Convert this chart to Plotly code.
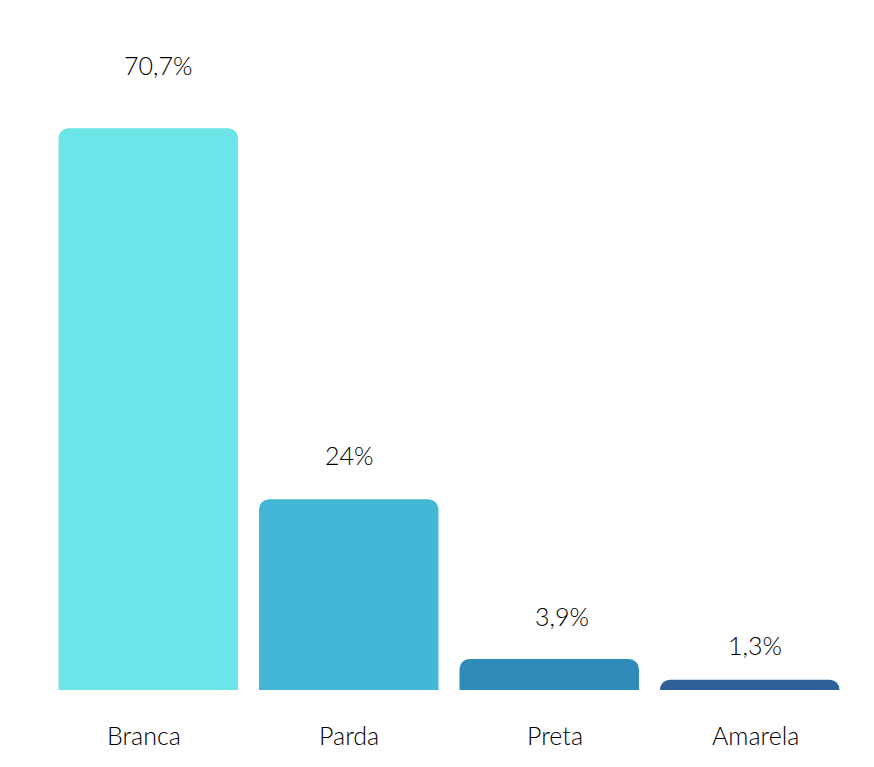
import plotly.graph_objects as go

categorias = ["Branca", "Parda", "Preta", "Amarela"]
valores = [70.7, 24.0, 3.9, 1.3]
rotulos = ["70,7%", "24%", "3,9%", "1,3%"]
cores = ["#6ce5e8", "#43b7d6", "#2e8bba", "#2e5f98"]

fonte = dict(family="Lato", size=25, weight=300, color="#000000")

fig = go.Figure()
fig.add_trace(go.Bar(
    x=categorias, y=valores,
    marker=dict(color=cores, cornerradius=10, line=dict(width=0)),
    hoverinfo="skip",
))

# rótulos de valor acima das barras (posições como no original)
desloc_y = [46, 27, 26, 18]
desloc_x = [10, 1, 13, 5]
for cat, v, txt, dy, dx in zip(categorias, valores, rotulos, desloc_y, desloc_x):
    fig.add_annotation(x=cat, y=v, text=txt, showarrow=False,
                       yanchor="bottom", yshift=dy, xshift=dx, font=fonte)

# nomes das categorias abaixo do eixo
desloc_cat = [-4, 0, 6, 6]
for cat, dx in zip(categorias, desloc_cat):
    fig.add_annotation(x=cat, y=0, yref="paper", text=cat, showarrow=False,
                       yanchor="middle", yshift=-45, xshift=dx, font=fonte)

fig.update_layout(
    width=874, height=767,
    margin=dict(l=40, r=32, t=20, b=85),
    plot_bgcolor="white", paper_bgcolor="white",
    bargap=0.105,
    showlegend=False,
    font=fonte,
    xaxis=dict(showline=False, showgrid=False, zeroline=False, ticks="",
               showticklabels=False),
    yaxis=dict(visible=False, range=[0, 83.3], showgrid=False, zeroline=False),
)

fig.write_html("out.html")
